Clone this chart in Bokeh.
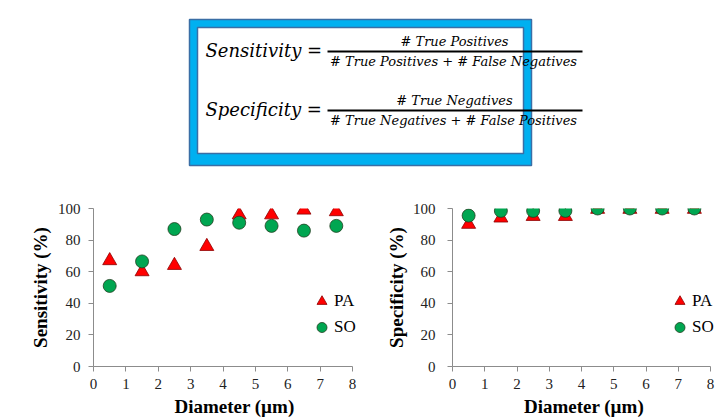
from bokeh.plotting import figure
from bokeh.layouts import column, row
from bokeh.models import Range1d, Label, Legend, LegendItem, FixedTicker
from bokeh.embed import file_html
from bokeh.resources import INLINE

diameter = [0.5, 1.5, 2.5, 3.5, 4.5, 5.5, 6.5, 7.5]
sens_pa = [67, 60, 64, 76, 96, 96, 99, 98]
sens_so = [51, 66.5, 87, 93, 91, 89, 86, 89]
spec_pa = [90, 94, 95, 95, 99.5, 99.5, 99.5, 99.5]
spec_so = [95.5, 98.5, 98.5, 98.5, 100, 100, 100, 100]
x_ticks = [0, 1, 2, 3, 4, 5, 6, 7, 8]
y_ticks = [0, 20, 40, 60, 80, 100]
X_MAX = 8

SERIF = "Liberation Serif"
EQ_FONT = "DejaVu Serif"

# ---------- top equation box ----------
top = figure(width=715, height=183, output_backend="svg", toolbar_location=None,
             x_range=Range1d(0, 715), y_range=Range1d(183, 0),
             min_border=0, outline_line_color=None)
top.axis.visible = False
top.grid.visible = False
top.background_fill_color = "white"
top.border_fill_color = "white"

top.quad(left=189, right=531, top=19, bottom=165, fill_color="#00B0F0",
         line_color="#3A6EA5", line_width=1.5)
top.quad(left=197, right=523, top=27, bottom=153, fill_color="white",
         line_color="#3A6EA5", line_width=1.5)

rows = [
    ("Sensitivity =", "# True Positives", "# True Positives + # False Negatives", 51),
    ("Specificity =", "# True Negatives", "# True Negatives + # False Positives", 110),
]
for lhs, num, den, yc in rows:
    top.add_layout(Label(x=205, y=yc - 1, text=lhs, text_font=EQ_FONT, text_font_style="italic",
                         text_font_size="18px", text_baseline="middle", text_align="left",
                         text_color="black"))
    top.segment(x0=[327], x1=[582], y0=[yc], y1=[yc], line_color="black", line_width=1.8)
    top.add_layout(Label(x=454, y=yc - 10, text=num, text_font=EQ_FONT, text_font_style="italic",
                         text_font_size="13px", text_baseline="middle", text_align="center",
                         text_color="black"))
    top.add_layout(Label(x=453, y=yc + 10, text=den, text_font=EQ_FONT, text_font_style="italic",
                         text_font_size="13px", text_baseline="middle", text_align="center",
                         text_color="black"))


def make_chart(width, border_left, border_right, axis_px, ylabel, pa, so, legend_x,
               tick_standoff, label_standoff):
    frame_w = width - border_left - border_right
    x_end = X_MAX * frame_w / axis_px  # frame wider than the 0..8 axis so legend fits
    p = figure(width=width, height=236, output_backend="svg", toolbar_location=None,
               x_range=Range1d(0, x_end), y_range=Range1d(0, 100),
               min_border_left=border_left, min_border_right=border_right,
               min_border_top=25, min_border_bottom=53, outline_line_color=None)
    p.grid.visible = False
    for ax in (p.xaxis[0], p.yaxis[0]):
        ax.axis_line_color = "#8C8C8C"
        ax.major_tick_line_color = "#8C8C8C"
        ax.minor_tick_line_color = None
        ax.major_tick_in = 0
        ax.major_tick_out = 5
        ax.major_label_text_font = SERIF
        ax.major_label_text_font_size = "15px"
        ax.major_label_text_color = "#222222"
        ax.axis_label_text_font = SERIF
        ax.axis_label_text_font_style = "bold"
        ax.axis_label_text_font_size = "19px"
        ax.axis_label_text_color = "black"
    p.xaxis.bounds = (0, X_MAX)
    p.xaxis.ticker = FixedTicker(ticks=x_ticks)
    p.yaxis.ticker = FixedTicker(ticks=y_ticks)
    p.xaxis.axis_label = "Diameter (µm)"
    p.yaxis.axis_label = ylabel
    p.xaxis.major_label_standoff = 7
    p.yaxis.major_label_standoff = tick_standoff
    p.xaxis.axis_label_standoff = 4
    p.yaxis.axis_label_standoff = label_standoff

    r_pa = p.scatter(diameter, pa, marker="triangle", size=14, fill_color="#FF0000",
                     line_color="#8B0000", line_width=0.8)
    r_so = p.scatter(diameter, so, marker="circle", size=13, fill_color="#00A651",
                     line_color="#1F3F1F", line_width=0.8)

    leg = Legend(items=[LegendItem(label="PA", renderers=[r_pa]),
                        LegendItem(label="SO", renderers=[r_so])],
                 location=(legend_x, 26), background_fill_alpha=0, border_line_alpha=0,
                 label_text_font=SERIF, label_text_font_size="17px",
                 label_text_color="black", glyph_width=25, glyph_height=26,
                 spacing=0, padding=0, label_standoff=0, margin=0)
    p.add_layout(leg)
    return p


left = make_chart(380, 93, 5, 259, "Sensitivity (%)", sens_pa, sens_so, 216, 8, 4)
right = make_chart(335, 72, 0, 258, "Specificity (%)", spec_pa, spec_so, 215, 12, 3)

layout = column(top, row(left, right, spacing=0), spacing=0)
open("out.html", "w").write(file_html(layout, INLINE))
